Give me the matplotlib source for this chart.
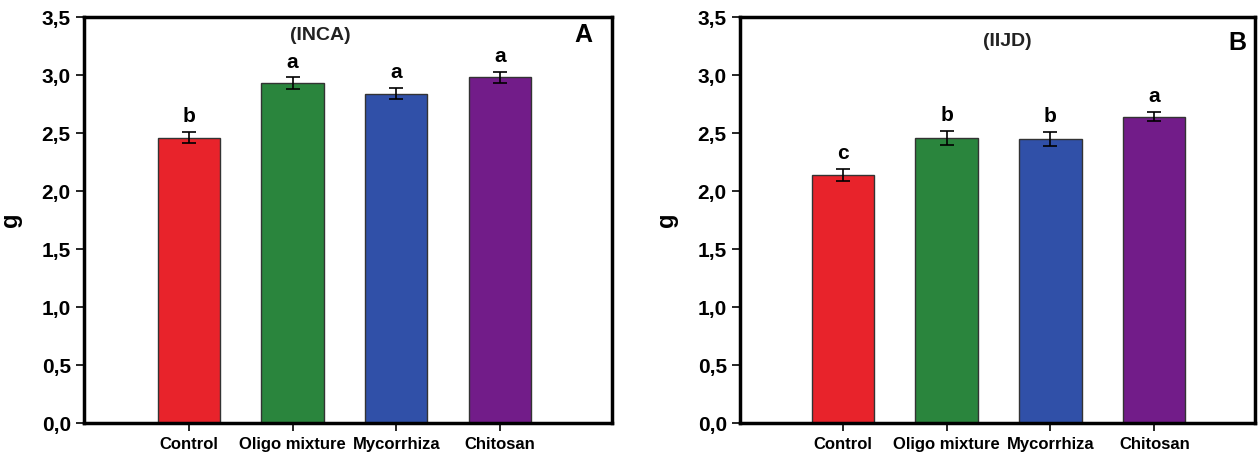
import matplotlib
matplotlib.use("Agg")
import matplotlib.pyplot as plt

categories = ["Control", "Oligo mixture", "Mycorrhiza", "Chitosan"]
vals_a = [2.46, 2.93, 2.84, 2.98]
err_a = [0.05, 0.05, 0.05, 0.05]
letters_a = ["b", "a", "a", "a"]
vals_b = [2.14, 2.46, 2.45, 2.64]
err_b = [0.05, 0.06, 0.06, 0.04]
letters_b = ["c", "b", "b", "a"]
yticks = [0.0, 0.5, 1.0, 1.5, 2.0, 2.5, 3.0, 3.5]
ytick_labels = ["0,0", "0,5", "1,0", "1,5", "2,0", "2,5", "3,0", "3,5"]
colors = ["#E8232B", "#2A853D", "#3050A8", "#721C89"]

plt.rcParams["font.family"] = ["Liberation Sans", "DejaVu Sans"]
plt.rcParams["font.weight"] = "bold"

fig = plt.figure(figsize=(12.59, 4.57), dpi=100)
ax_a = fig.add_axes([84/1259, 34/457, 528/1259, 406/457])
ax_b = fig.add_axes([740/1259, 34/457, 515/1259, 406/457])

def draw(ax, vals, errs, letters, subtitle, subpos, tag, xlim, tagpos):
    x = list(range(len(categories)))
    ax.bar(x, vals, width=0.6, color=colors, edgecolor="#333333", linewidth=1.0, zorder=2)
    ax.errorbar(x, vals, yerr=errs, fmt="none", ecolor="black", elinewidth=1.2, capsize=5, capthick=1.2, zorder=3)
    for xi, v, e, l in zip(x, vals, errs, letters):
        ax.text(xi, v + e + 0.05, l, ha="center", va="bottom", fontsize=15, fontweight="bold")
    ax.set_xlim(*xlim)
    ax.set_ylim(0, 3.5)
    ax.set_yticks(yticks)
    ax.set_yticklabels(ytick_labels, fontsize=15, fontweight="bold")
    ax.set_xticks(x)
    ax.set_xticklabels(categories, fontsize=12, fontweight="bold")
    ax.tick_params(axis="both", direction="out", length=6, width=1.2)
    ax.tick_params(axis="x", pad=4)
    for s in ax.spines.values():
        s.set_linewidth(2.5)
    ax.set_ylabel("g", fontsize=17, fontweight="bold", labelpad=14)
    ax.text(subpos[0], subpos[1], subtitle, ha="center", va="center", fontsize=14, fontweight="bold", color="#222222")
    ax.text(tagpos[0], tagpos[1], tag, ha="center", va="center", fontsize=18, fontweight="bold", transform=ax.transAxes)

draw(ax_a, vals_a, err_a, letters_a, "(INCA)", (1.27, 3.34), "A", (-1.01, 4.08), (0.945, 0.955))
draw(ax_b, vals_b, err_b, letters_b, "(IIJD)", (1.58, 3.29), "B", (-0.99, 3.97), (0.965, 0.935))

fig.savefig("out.png", dpi=100)
